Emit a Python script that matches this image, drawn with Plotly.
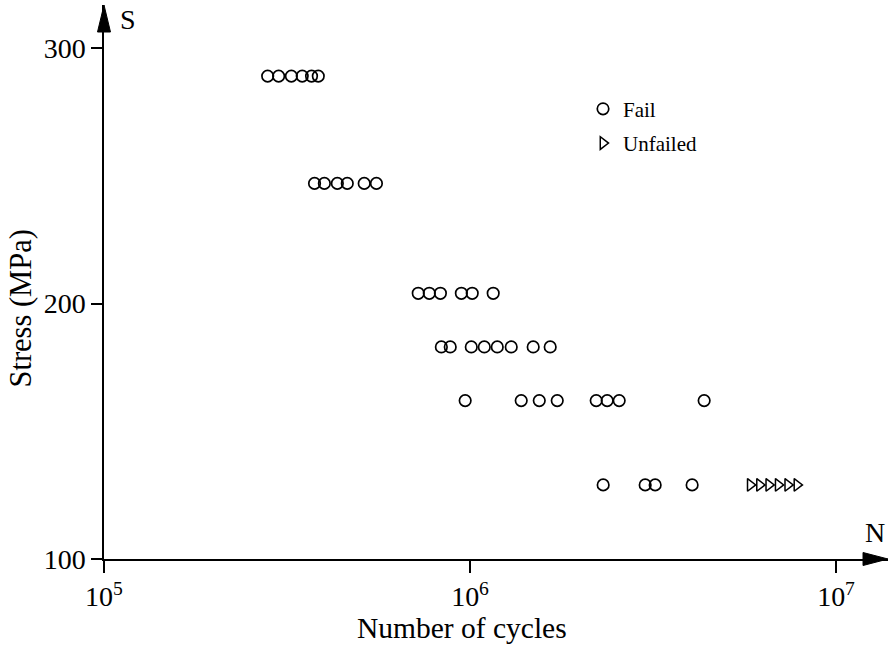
import plotly.graph_objects as go

# --- data ---
fail_cycles = [
    2.80e5, 3.00e5, 3.25e5, 3.48e5, 3.69e5, 3.85e5,
    3.76e5, 4.00e5, 4.34e5, 4.62e5, 5.14e5, 5.55e5,
    7.22e5, 7.74e5, 8.30e5, 9.47e5, 1.014e6, 1.157e6,
    8.35e5, 8.83e5, 1.008e6, 1.094e6, 1.187e6, 1.296e6, 1.488e6, 1.656e6,
    9.70e5, 1.380e6, 1.546e6, 1.731e6, 2.212e6, 2.370e6, 2.556e6, 4.362e6,
    2.311e6, 3.010e6, 3.205e6, 4.044e6,
]
fail_stress = (
    [289] * 6 + [247] * 6 + [204] * 6 + [183] * 8 + [162] * 8 + [129] * 4
)
unfailed_cycles = [5.83e6, 6.18e6, 6.55e6, 6.95e6, 7.38e6, 7.82e6]
unfailed_stress = [129] * 6

x_tickvals = [1e5, 1e6, 1e7]
x_ticktext = ["10<sup>5</sup>", "10<sup>6</sup>", "10<sup>7</sup>"]
y_tickvals = [100, 200, 300]

FONT = "Liberation Serif"

# plot area pixel geometry
W, H = 889, 650
L, R, T, B = 103.5, 888, 5, 559
pw, ph = R - L, B - T

fig = go.Figure()
fig.add_trace(go.Scatter(
    x=fail_cycles, y=fail_stress, mode="markers", name="Fail",
    legendgroup="a",
    marker=dict(symbol="circle-open", size=11.5, color="black",
                line=dict(width=1.7, color="black")),
))
fig.add_trace(go.Scatter(
    x=unfailed_cycles, y=unfailed_stress, mode="markers", name="Unfailed",
    legendgroup="b",
    marker=dict(symbol="triangle-right-open", size=11, color="black",
                line=dict(width=1.5, color="black")),
))

def px_x(p):
    return (p - L) / pw

def px_y(p):
    return (B - p) / ph

shapes = [
    # y-axis arrowhead
    dict(type="path", xref="paper", yref="paper",
         path=f"M {px_x(103.5)} {px_y(5)} L {px_x(97)} {px_y(32)} L {px_x(110)} {px_y(32)} Z",
         fillcolor="black", line=dict(color="black", width=1)),
    # x-axis arrowhead
    dict(type="path", xref="paper", yref="paper",
         path=f"M {px_x(888)} {px_y(559)} L {px_x(863)} {px_y(552.5)} L {px_x(863)} {px_y(565.5)} Z",
         fillcolor="black", line=dict(color="black", width=1)),
]

annotations = [
    dict(text="S", xref="paper", yref="paper", x=px_x(118), y=px_y(19),
         xanchor="left", yanchor="middle", showarrow=False,
         font=dict(family=FONT, size=28, color="black")),
    dict(text="N", xref="paper", yref="paper", x=px_x(875), y=px_y(532),
         xanchor="center", yanchor="middle", showarrow=False,
         font=dict(family=FONT, size=28, color="black")),
    dict(text="Stress (MPa)", xref="paper", yref="paper", x=px_x(20), y=px_y(309),
         xanchor="center", yanchor="middle", showarrow=False, textangle=-90,
         font=dict(family=FONT, size=30.5, color="black")),
    dict(text="Number of cycles", xref="paper", yref="paper", x=px_x(462), y=px_y(628),
         xanchor="center", yanchor="middle", showarrow=False,
         font=dict(family=FONT, size=29.5, color="black")),
]

fig.update_layout(
    width=W, height=H,
    margin=dict(l=L, r=W - R, t=T, b=H - B, pad=0),
    paper_bgcolor="white", plot_bgcolor="white",
    font=dict(family=FONT, size=26, color="black"),
    shapes=shapes, annotations=annotations,
    showlegend=True,
    legend=dict(x=0.611, y=0.849, xanchor="left", yanchor="top",
                font=dict(family=FONT, size=21, color="black"),
                bgcolor="rgba(0,0,0,0)", tracegroupgap=4,
                traceorder="grouped", itemwidth=30),
    xaxis=dict(type="log", range=[5, 5 + (R - L) / 366.25],
               tickvals=x_tickvals, ticktext=x_ticktext,
               showgrid=False, zeroline=False,
               showline=True, linecolor="black", linewidth=1.5,
               ticks="outside", ticklen=12, tickwidth=1.5, tickcolor="black",
               tickfont=dict(family=FONT, size=28, color="black")),
    yaxis=dict(range=[100, 300 + (48 - T) / 2.555],
               tickvals=y_tickvals,
               showgrid=False, zeroline=False,
               showline=True, linecolor="black", linewidth=1.5,
               ticks="outside", ticklen=11, tickwidth=1.5, tickcolor="black",
               tickfont=dict(family=FONT, size=28, color="black")),
)

fig.write_html("out.html")
